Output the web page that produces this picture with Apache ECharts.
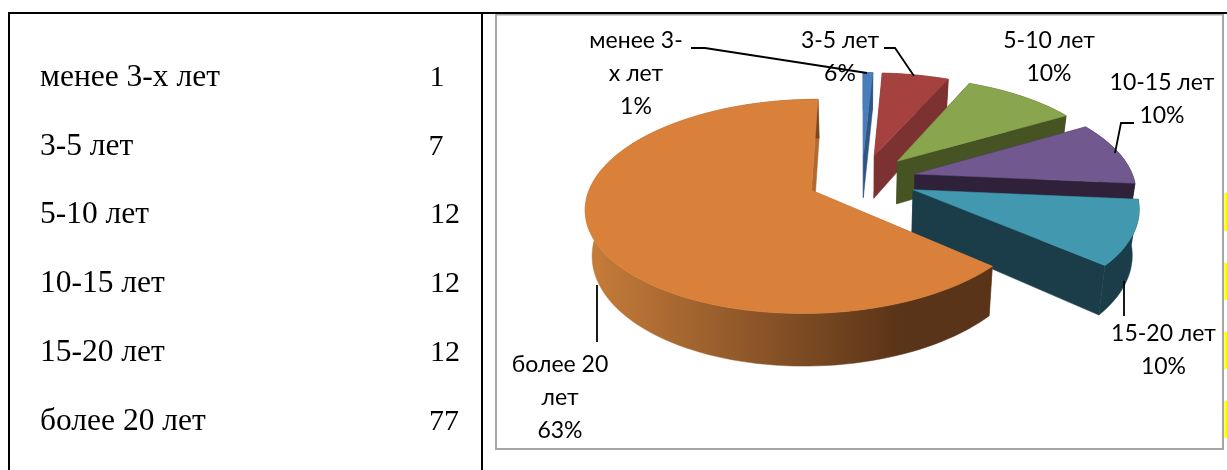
<!DOCTYPE html>
<html><head><meta charset="utf-8">
<style>html,body{margin:0;padding:0;background:#fff}#c{width:1227px;height:470px}</style>
<script src="https://cdn.jsdelivr.net/npm/echarts@6/dist/echarts.min.js"></script>
</head><body><div id="c"></div>
<script>
// ---- data ----
const categories = ['менее 3-х лет','3-5 лет','5-10 лет','10-15 лет','15-20 лет','более 20 лет'];
const counts = [1,7,12,12,12,77];
const percentLabels = ['1%','6%','10%','10%','10%','63%'];
const pieNames = ['менее 3-\nх лет','3-5 лет','5-10 лет','10-15 лет','15-20 лет','более 20\nлет'];
const topColors = ['#4A7EBB','#A5423F','#89A54E','#71588F','#4198AF','#D9813B'];
const wallColors = ['#2F5586','#7B3230','#465424','#2E2139','#1B3C49','#B06A30'];

// ---- layout ----
const P = {x0:862,y0:179.6,a:219,b:101.5,p:0.148,depth:44,explode:0.25,bottomX:0.975};
const labelPos = [[636,74],[840,57],[1049,57],[1162,99],[1163.5,350.5],[560,398]];
const leaders = [
  [[691,48],[705,48],[867,73]],
  [[884,48],[895,48],[914,76]],
  null,
  [[1134,123],[1121,123],[1115,153]],
  [[1124,281],[1124,316]],
  [[597,285],[597,342]]
];
const tableRows = [78,147,215,284,353,422];
const valueX = [437,436,445,445,445,444];
const yellowBands = [[193,231],[263,300],[332,369],[401,438]];

const total = counts.reduce((s,v)=>s+v,0);
const rad = d => d*Math.PI/180;
function proj(u,v,down){
  const w = 1-P.p*v;
  const dx = P.a*u/w;
  return [P.x0+(down?dx*P.bottomX:dx), P.y0+(P.b*v+(down?P.depth:0))/w];
}
function sliceAngles(i){
  let s=0; for(let k=0;k<i;k++) s+=counts[k];
  return [s/total*360,(s+counts[i])/total*360];
}
function renderSlice(params, api){
  const i = api.value(0);
  const [a0,a1] = sliceAngles(i);
  const m = rad((a0+a1)/2);
  const ou = P.explode*Math.sin(m), ov = -P.explode*Math.cos(m);
  const arc = [];
  const n = Math.max(3,Math.ceil((a1-a0)/2));
  for(let k=0;k<=n;k++){
    const t = rad(a0+(a1-a0)*k/n);
    arc.push([ou+Math.sin(t), ov-Math.cos(t)]);
  }
  const top = arc.map(q=>proj(q[0],q[1],false));
  const bot = arc.map(q=>proj(q[0],q[1],true));
  const tipT = proj(ou,ov,false), tipB = proj(ou,ov,true);
  const outerFill = i===5
    ? new echarts.graphic.LinearGradient(590,0,900,0,[{offset:0,color:'#C67C3B'},{offset:1,color:'#5A3418'}],true)
    : wallColors[i];
  const outer = top.concat(bot.slice().reverse());
  const shapes = [
    {pts:[tipT,top[0],bot[0],tipB],fill:wallColors[i]},
    {pts:[tipT,top[n],bot[n],tipB],fill:wallColors[i]},
    {pts:outer,fill:outerFill},
    {pts:[tipT].concat(top),fill:topColors[i]}
  ];
  return {type:'group',children:shapes.map(s=>({
    type:'polygon',shape:{points:s.pts},
    style:{fill:s.fill,stroke:s.fill,lineWidth:0.5}
  }))};
}

const graphicEls = [];
// table borders
graphicEls.push({type:'line',z:3,shape:{x1:8,y1:13,x2:1227,y2:13},style:{stroke:'#000',lineWidth:2}});
graphicEls.push({type:'line',z:1,shape:{x1:9,y1:13,x2:9,y2:470},style:{stroke:'#000',lineWidth:2}});
graphicEls.push({type:'line',z:1,shape:{x1:482,y1:13,x2:482,y2:470},style:{stroke:'#000',lineWidth:2}});
// chart frame
graphicEls.push({type:'rect',z:1,shape:{x:496,y:14.5,width:727,height:434.5},style:{fill:'#fff',stroke:'#A6A6A6',lineWidth:2}});
yellowBands.forEach(b=>graphicEls.push({type:'rect',z:1,shape:{x:1224.5,y:b[0],width:2.5,height:b[1]-b[0]},style:{fill:'#FFFF00'}}));
// table text
categories.forEach((c,i)=>{
  graphicEls.push({type:'text',z:2,style:{text:c,x:40,y:tableRows[i],verticalAlign:'middle',fill:'#000',font:'31.5px "Liberation Serif"'}});
  graphicEls.push({type:'text',z:2,style:{text:String(counts[i]),x:valueX[i],y:tableRows[i],align:'center',verticalAlign:'middle',fill:'#000',font:'30px "Liberation Serif"'}});
});
// pie labels
pieNames.forEach((nm,i)=>{
  graphicEls.push({type:'text',z:20,style:{text:nm+'\n'+percentLabels[i],x:labelPos[i][0],y:labelPos[i][1],align:'center',verticalAlign:'middle',
    fill:'#000',fontFamily:'Lato, "Open Sans"',fontSize:23,lineHeight:33}});
});
leaders.forEach(l=>{ if(l) graphicEls.push({type:'polyline',z:21,shape:{points:l},style:{stroke:'#000',lineWidth:1.8,fill:null}}); });

const chart = echarts.init(document.getElementById('c'),null,{renderer:'canvas'});
chart.setOption({
  animation:false,
  graphic:{elements:graphicEls},
  series:[{type:'custom',coordinateSystem:'none',z:10,silent:true,
    data:counts.map((v,i)=>[i,v]),
    encode:{value:[0,1]},
    renderItem:renderSlice}]
});
</script></body></html>
